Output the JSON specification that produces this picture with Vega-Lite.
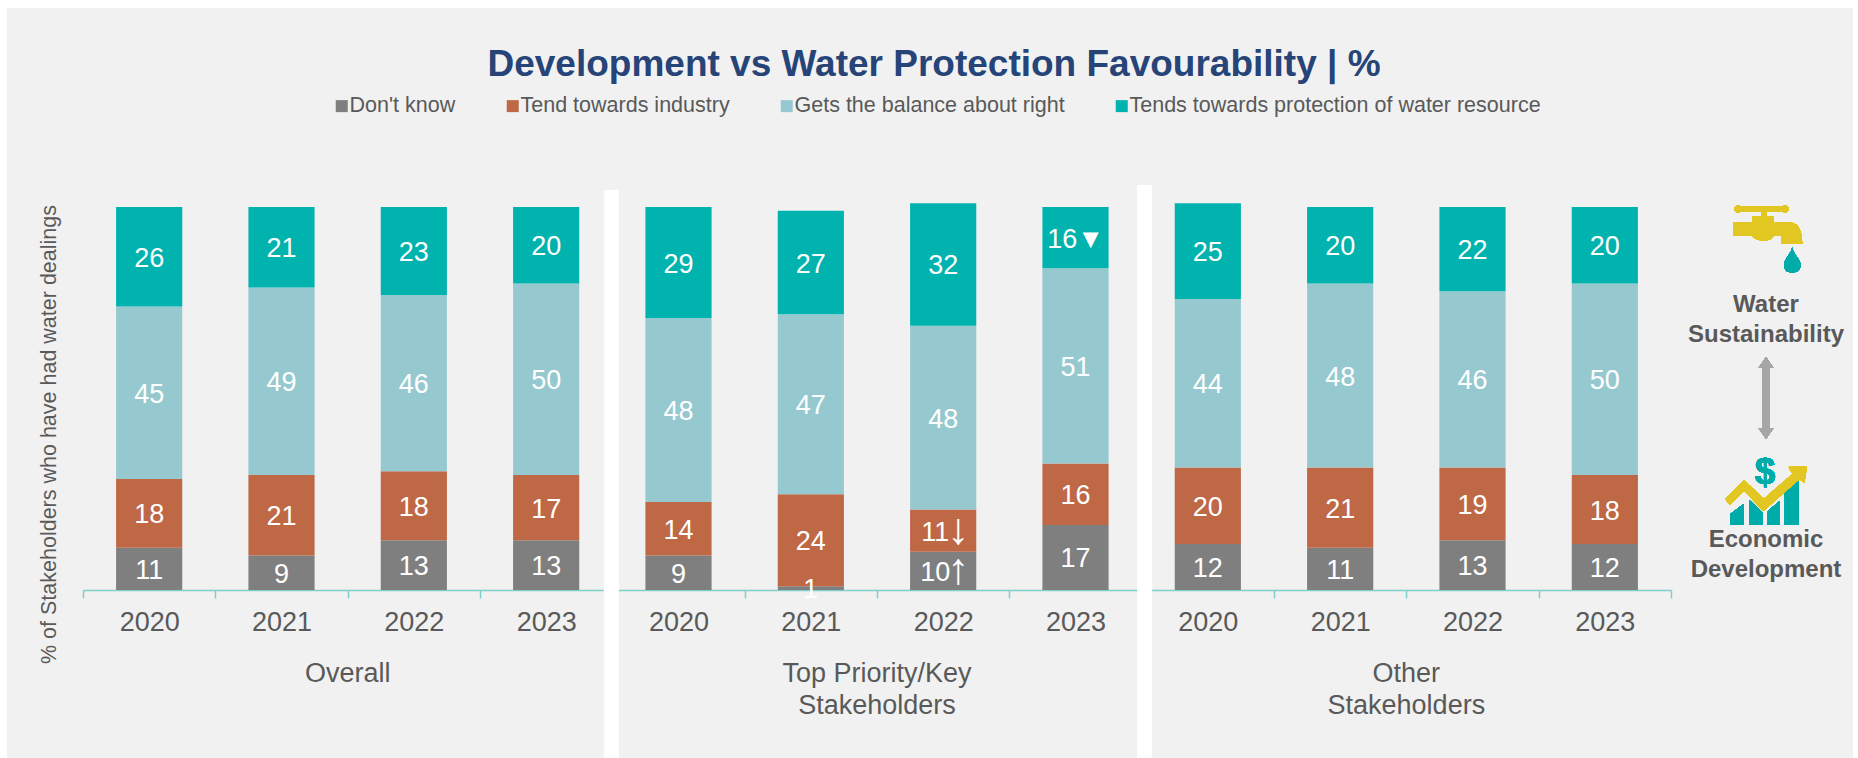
{
  "$schema": "https://vega.github.io/schema/vega-lite/v6.json",
  "autosize": "none",
  "width": 1588,
  "height": 383,
  "padding": {"left": 83, "top": 207, "right": 187, "bottom": 168},
  "background": "#f1f1f1",
  "title": {
    "text": "Development vs Water Protection Favourability | %",
    "anchor": "middle",
    "dx": 57,
    "dy": 116,
    "offset": 0,
    "baseline": "alphabetic",
    "font": "Liberation Sans",
    "fontSize": 37,
    "fontWeight": "bold",
    "color": "#264478"
  },
  "config": {
    "font": "Liberation Sans",
    "view": {"stroke": null},
    "axis": {"grid": false}
  },
  "datasets": {
    "survey": [
      {"key": "Overall 2020", "series": "Don't know", "rank": 1, "value": 11, "label": "11"},
      {"key": "Overall 2020", "series": "Tend towards industry", "rank": 2, "value": 18, "label": "18"},
      {"key": "Overall 2020", "series": "Gets the balance about right", "rank": 3, "value": 45, "label": "45"},
      {"key": "Overall 2020", "series": "Tends towards protection of water resource", "rank": 4, "value": 26, "label": "26"},
      {"key": "Overall 2021", "series": "Don't know", "rank": 1, "value": 9, "label": "9"},
      {"key": "Overall 2021", "series": "Tend towards industry", "rank": 2, "value": 21, "label": "21"},
      {"key": "Overall 2021", "series": "Gets the balance about right", "rank": 3, "value": 49, "label": "49"},
      {"key": "Overall 2021", "series": "Tends towards protection of water resource", "rank": 4, "value": 21, "label": "21"},
      {"key": "Overall 2022", "series": "Don't know", "rank": 1, "value": 13, "label": "13"},
      {"key": "Overall 2022", "series": "Tend towards industry", "rank": 2, "value": 18, "label": "18"},
      {"key": "Overall 2022", "series": "Gets the balance about right", "rank": 3, "value": 46, "label": "46"},
      {"key": "Overall 2022", "series": "Tends towards protection of water resource", "rank": 4, "value": 23, "label": "23"},
      {"key": "Overall 2023", "series": "Don't know", "rank": 1, "value": 13, "label": "13"},
      {"key": "Overall 2023", "series": "Tend towards industry", "rank": 2, "value": 17, "label": "17"},
      {"key": "Overall 2023", "series": "Gets the balance about right", "rank": 3, "value": 50, "label": "50"},
      {"key": "Overall 2023", "series": "Tends towards protection of water resource", "rank": 4, "value": 20, "label": "20"},
      {"key": "Top 2020", "series": "Don't know", "rank": 1, "value": 9, "label": "9"},
      {"key": "Top 2020", "series": "Tend towards industry", "rank": 2, "value": 14, "label": "14"},
      {"key": "Top 2020", "series": "Gets the balance about right", "rank": 3, "value": 48, "label": "48"},
      {"key": "Top 2020", "series": "Tends towards protection of water resource", "rank": 4, "value": 29, "label": "29"},
      {"key": "Top 2021", "series": "Don't know", "rank": 1, "value": 1, "label": "1"},
      {"key": "Top 2021", "series": "Tend towards industry", "rank": 2, "value": 24, "label": "24"},
      {"key": "Top 2021", "series": "Gets the balance about right", "rank": 3, "value": 47, "label": "47"},
      {"key": "Top 2021", "series": "Tends towards protection of water resource", "rank": 4, "value": 27, "label": "27"},
      {"key": "Top 2022", "series": "Don't know", "rank": 1, "value": 10, "label": "10", "flag": "↑"},
      {"key": "Top 2022", "series": "Tend towards industry", "rank": 2, "value": 11, "label": "11", "flag": "↓"},
      {"key": "Top 2022", "series": "Gets the balance about right", "rank": 3, "value": 48, "label": "48"},
      {"key": "Top 2022", "series": "Tends towards protection of water resource", "rank": 4, "value": 32, "label": "32"},
      {"key": "Top 2023", "series": "Don't know", "rank": 1, "value": 17, "label": "17"},
      {"key": "Top 2023", "series": "Tend towards industry", "rank": 2, "value": 16, "label": "16"},
      {"key": "Top 2023", "series": "Gets the balance about right", "rank": 3, "value": 51, "label": "51"},
      {"key": "Top 2023", "series": "Tends towards protection of water resource", "rank": 4, "value": 16, "label": "16▼"},
      {"key": "Other 2020", "series": "Don't know", "rank": 1, "value": 12, "label": "12"},
      {"key": "Other 2020", "series": "Tend towards industry", "rank": 2, "value": 20, "label": "20"},
      {"key": "Other 2020", "series": "Gets the balance about right", "rank": 3, "value": 44, "label": "44"},
      {"key": "Other 2020", "series": "Tends towards protection of water resource", "rank": 4, "value": 25, "label": "25"},
      {"key": "Other 2021", "series": "Don't know", "rank": 1, "value": 11, "label": "11"},
      {"key": "Other 2021", "series": "Tend towards industry", "rank": 2, "value": 21, "label": "21"},
      {"key": "Other 2021", "series": "Gets the balance about right", "rank": 3, "value": 48, "label": "48"},
      {"key": "Other 2021", "series": "Tends towards protection of water resource", "rank": 4, "value": 20, "label": "20"},
      {"key": "Other 2022", "series": "Don't know", "rank": 1, "value": 13, "label": "13"},
      {"key": "Other 2022", "series": "Tend towards industry", "rank": 2, "value": 19, "label": "19"},
      {"key": "Other 2022", "series": "Gets the balance about right", "rank": 3, "value": 46, "label": "46"},
      {"key": "Other 2022", "series": "Tends towards protection of water resource", "rank": 4, "value": 22, "label": "22"},
      {"key": "Other 2023", "series": "Don't know", "rank": 1, "value": 12, "label": "12"},
      {"key": "Other 2023", "series": "Tend towards industry", "rank": 2, "value": 18, "label": "18"},
      {"key": "Other 2023", "series": "Gets the balance about right", "rank": 3, "value": 50, "label": "50"},
      {"key": "Other 2023", "series": "Tends towards protection of water resource", "rank": 4, "value": 20, "label": "20"}
    ],
    "groups": [
      {"key": "Overall 2021", "name": "Overall"},
      {"key": "Top 2021", "name": "Top Priority/Key\nStakeholders"},
      {"key": "Other 2021", "name": "Other\nStakeholders"}
    ]
  },
  "data": {"name": "survey"},
  "encoding": {
    "x": {
      "field": "key",
      "type": "nominal",
      "scale": {
        "domain": ["Overall 2020", "Overall 2021", "Overall 2022", "Overall 2023", "Top 2020", "Top 2021", "Top 2022", "Top 2023", "Other 2020", "Other 2021", "Other 2022", "Other 2023"],
        "paddingInner": 0,
        "paddingOuter": 0
      },
      "axis": {
        "title": null,
        "labelExpr": "split(datum.value, ' ')[1]",
        "labelAngle": 0,
        "labelFontSize": 27,
        "labelColor": "#595959",
        "labelPadding": 11,
        "domainColor": "#7fcfc9",
        "domainWidth": 1.5,
        "tickColor": "#7fcfc9",
        "tickWidth": 1.5,
        "tickSize": 8,
        "tickBand": "extent"
      }
    }
  },
  "layer": [
    {
      "mark": {"type": "bar", "width": {"band": 0.5}},
      "encoding": {
        "y": {
          "field": "value",
          "type": "quantitative",
          "stack": "zero",
          "scale": {"domain": [0, 100], "nice": false},
          "axis": {
            "title": "% of Stakeholders who have had water dealings",
            "titleFontSize": 21.5,
            "titleFontWeight": "normal",
            "titleColor": "#595959",
            "titleX": -34,
            "titleY": 227,
            "titleAlign": "center",
            "titleBaseline": "middle",
            "domain": false,
            "ticks": false,
            "labels": false
          }
        },
        "color": {
          "field": "series",
          "type": "nominal",
          "scale": {
            "domain": ["Don't know", "Tend towards industry", "Gets the balance about right", "Tends towards protection of water resource"],
            "range": ["#7f7f7f", "#bf6846", "#96c9cf", "#00b3ae"]
          },
          "legend": {
            "orient": "none",
            "legendX": 248,
            "legendY": -112,
            "direction": "horizontal",
            "columns": 4,
            "title": null,
            "symbolType": "square",
            "symbolSize": 144,
            "symbolStrokeWidth": 0,
            "labelFontSize": 21.5,
            "labelColor": "#595959",
            "labelOffset": -3,
            "columnPadding": 46,
            "labelLimit": 600
          }
        },
        "order": {"field": "rank", "type": "quantitative"}
      }
    },
    {
      "data": {"name": "groups"},
      "mark": {"type": "text", "fontSize": 27, "color": "#595959", "lineBreak": "\n", "lineHeight": 32, "baseline": "top", "align": "center"},
      "encoding": {
        "x": {"field": "key", "type": "nominal", "bandPosition": 1},
        "y": {"value": 454},
        "text": {"field": "name", "type": "nominal"}
      }
    },
    {
      "data": {"values": [{"key": "Overall 2023"}]},
      "mark": {"type": "rule", "color": "#ffffff", "strokeWidth": 15, "xOffset": -1},
      "encoding": {
        "x": {"field": "key", "type": "nominal", "bandPosition": 1},
        "y": {"value": -17},
        "y2": {"value": 551}
      }
    },
    {
      "data": {"values": [{"key": "Top 2023"}]},
      "mark": {"type": "rule", "color": "#ffffff", "strokeWidth": 15, "xOffset": 3},
      "encoding": {
        "x": {"field": "key", "type": "nominal", "bandPosition": 1},
        "y": {"value": -22},
        "y2": {"value": 551}
      }
    },
    {
      "mark": {"type": "text", "fontSize": 27, "color": "#ffffff", "dy": 2},
      "encoding": {
        "y": {"field": "value", "type": "quantitative", "stack": "zero", "bandPosition": 0.5},
        "detail": {"field": "series"},
        "order": {"field": "rank", "type": "quantitative"},
        "text": {"condition": {"test": "datum.flag", "value": ""}, "field": "label"}
      }
    },
    {
      "mark": {"type": "text", "fontSize": 27, "color": "#ffffff", "dy": 2, "dx": -8},
      "encoding": {
        "y": {"field": "value", "type": "quantitative", "stack": "zero", "bandPosition": 0.5},
        "detail": {"field": "series"},
        "order": {"field": "rank", "type": "quantitative"},
        "text": {"condition": {"test": "datum.flag", "field": "label"}, "value": ""}
      }
    },
    {
      "mark": {"type": "text", "fontSize": 44, "color": "#ffffff", "dx": 15},
      "encoding": {
        "y": {"field": "value", "type": "quantitative", "stack": "zero", "bandPosition": 0.5},
        "detail": {"field": "series"},
        "order": {"field": "rank", "type": "quantitative"},
        "text": {"condition": {"test": "datum.flag", "field": "flag"}, "value": ""}
      }
    },
    {
      "data": {"values": [
        {"caption": "Water\nSustainability", "at": 98},
        {"caption": "Economic\nDevelopment", "at": 333}
      ]},
      "mark": {"type": "text", "fontSize": 24, "fontWeight": "bold", "color": "#595959", "lineBreak": "\n", "lineHeight": 30, "baseline": "middle", "align": "center"},
      "encoding": {
        "x": {"value": 1683},
        "y": {"field": "at", "type": "quantitative", "scale": null},
        "text": {"field": "caption", "type": "nominal"}
      }
    },
    {
      "mark": {"type": "point", "filled": true, "opacity": 1, "strokeWidth": 0, "size": 4, "color": "#a6a6a6",
        "shape": "M0,-41 L7.5,-30 L4,-30 L4,30 L7.5,30 L0,41 L-7.5,30 L-4,30 L-4,-30 L-7.5,-30 Z"},
      "encoding": {"x": {"value": 1683}, "y": {"value": 191}}
    },
    {
      "mark": {"type": "point", "filled": true, "opacity": 1, "strokeWidth": 0, "size": 4, "color": "#e2c622",
        "shape": "M-32,-2 L-13,-2 L-13,-8 L-4,-8 L-4,-12 L-26,-12 A3.5,3.5 0 1 1 -26,-18 L18,-18 A3.5,3.5 0 1 1 18,-12 L1,-12 L1,-8 L8,-8 L8,-2 L22,-2 C31,-2 36,4 36,14 L37,20 L16,20 L16,12 L8,12 C6,18 -10,18 -13,12 L-32,12 Z"},
      "encoding": {"x": {"value": 1682.5}, "y": {"value": 17}}
    },
    {
      "mark": {"type": "point", "filled": true, "opacity": 1, "strokeWidth": 0, "size": 4, "color": "#00aca9",
        "shape": "M26.7,23.5 C28,31 35,35 35,41 C35,46 31,48.5 26.7,48.5 C22,48.5 18.5,46 18.5,41 C18.5,35 25,31 26.7,23.5 Z"},
      "encoding": {"x": {"value": 1682.5}, "y": {"value": 17}}
    },
    {
      "mark": {"type": "point", "filled": true, "opacity": 1, "strokeWidth": 0, "size": 4, "color": "#00aca9",
        "shape": "M-35,22 L-22,12 L-22,33 L-35,33 Z M-16.3,8 L-3.4,20 L-3.4,33 L-16.3,33 Z M2.4,19 L14.3,9 L14.3,33 L2.4,33 Z M19.4,-5 L33,-18 L33,33 L19.4,33 Z"},
      "encoding": {"x": {"value": 1682.5}, "y": {"value": 285}}
    },
    {
      "mark": {"type": "point", "filled": true, "opacity": 1, "strokeWidth": 0, "size": 4, "color": "#e2c622",
        "shape": "M-40,7 L-21.4,-12 L-2,7 L27,-18 L23,-25 L41.5,-26 L39,-9 L34,-13 L-2,19 L-21.4,-1 L-36,13 Z"},
      "encoding": {"x": {"value": 1682.5}, "y": {"value": 285}}
    },
    {
      "mark": {"type": "text", "text": "$", "fontSize": 36, "fontWeight": "bold", "color": "#00aca9", "align": "center", "baseline": "middle"},
      "encoding": {"x": {"value": 1682}, "y": {"value": 266}}
    },
    {
      "mark": {"type": "rule", "color": "#ffffff", "strokeWidth": 8},
      "encoding": {"x": {"value": -83}, "x2": {"value": 1775}, "y": {"value": -203}}
    },
    {
      "mark": {"type": "rule", "color": "#ffffff", "strokeWidth": 7},
      "encoding": {"x": {"value": -79.5}, "y": {"value": -207}, "y2": {"value": 551}}
    },
    {
      "mark": {"type": "rule", "color": "#ffffff", "strokeWidth": 5},
      "encoding": {"x": {"value": 1772.5}, "y": {"value": -207}, "y2": {"value": 551}}
    }
  ]
}
